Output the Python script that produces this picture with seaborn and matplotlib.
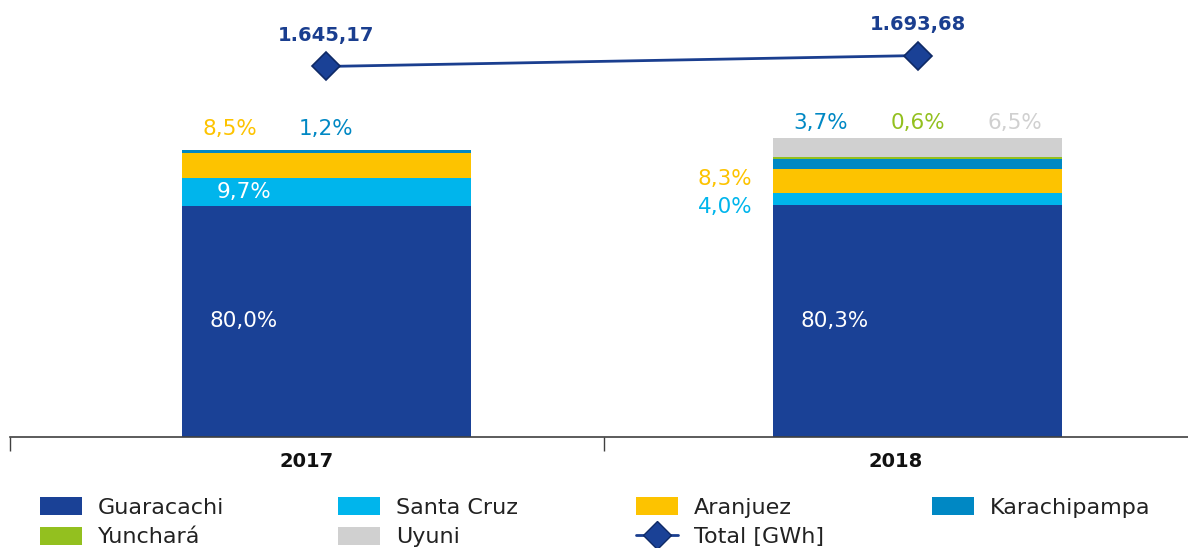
import numpy as np
import pandas as pd
import matplotlib
matplotlib.use("Agg")
import matplotlib.pyplot as plt
import seaborn as sns
from matplotlib.patches import Patch
from matplotlib.lines import Line2D

# Data
years = ["2017", "2018"]
plants = ["Guaracachi", "Santa Cruz", "Aranjuez", "Karachipampa", "Yunchará", "Uyuni"]
share_2017 = [80.0, 9.7, 8.5, 1.2, 0.0, 0.0]
share_2018 = [80.3, 4.0, 8.3, 3.7, 0.6, 6.5]
totals_gwh = [1645.17, 1693.68]

colors = ["#1a4196", "#00b5ec", "#fdc300", "#0088c4", "#93c01f", "#d0d0d0"]
line_color = "#1a3e8f"

sns.set_theme(style="white")
plt.rcParams["font.family"] = ["DejaVu Sans"]


def pct(v):
    return f"{v:.1f}".replace(".", ",") + "%"


def gwh(v):
    s = f"{v:,.2f}"
    return s.replace(",", "X").replace(".", ",").replace("X", ".")


shares = pd.DataFrame([share_2017, share_2018], columns=plants, index=years)
cum = shares.cumsum(axis=1)

fig = plt.figure(figsize=(11.88, 5.48), dpi=100)
ax = fig.add_axes([10 / 1188, 111 / 548, 1178 / 1188, 437 / 548])

# stacked bars: draw cumulative totals from the top segment down
for name, col in reversed(list(zip(plants, colors))):
    sns.barplot(x=years, y=cum[name].values, color=col, width=0.489,
                saturation=1, ax=ax, edgecolor="none")

ax.set_ylim(0, 437 / 2.89)
for side in ["top", "right", "left"]:
    ax.spines[side].set_visible(False)
ax.spines["bottom"].set_color("#404040")
ax.spines["bottom"].set_linewidth(1.2)
ax.set_yticks([])
ax.set_ylabel("")

# labels inside bars (white)
inside = [(0, "Guaracachi"), (0, "Santa Cruz"), (1, "Guaracachi")]
for i, name in inside:
    v = shares.loc[years[i], name]
    mid = cum.loc[years[i], name] - v / 2
    ax.text(i - 0.14, mid, pct(v), color="white", fontsize=15.5,
            ha="center", va="center")

# labels outside bars (segment colour)
outside = [
    (0, "Aranjuez", -0.163, 106.6),
    (0, "Karachipampa", 0.0, 106.6),
    (1, "Karachipampa", -0.165, 108.7),
    (1, "Yunchará", 0.0, 108.7),
    (1, "Uyuni", 0.165, 108.7),
    (1, "Aranjuez", -0.326, 89.3),
    (1, "Santa Cruz", -0.326, 79.6),
]
for i, name, dx, y in outside:
    v = shares.loc[years[i], name]
    ax.text(i + dx, y, pct(v), color=colors[plants.index(name)], fontsize=15.5,
            ha="center", va="center")

# total generation line on a secondary axis
ax2 = ax.twinx()
xpos = np.arange(len(years))
sns.lineplot(x=xpos, y=totals_gwh, ax=ax2, color=line_color, linewidth=2,
             marker="D", markersize=14, markerfacecolor="#1a4196",
             markeredgecolor="#0f2a66", markeredgewidth=1.2)
ax2.set_ylim(0, 437 * 4.44)
ax2.set_yticks([])
ax2.set_ylabel("")
for side in ["top", "right", "left", "bottom"]:
    ax2.spines[side].set_visible(False)
for x, t in zip(xpos, totals_gwh):
    ax2.annotate(gwh(t), (x, t), xytext=(0, 22), textcoords="offset points",
                 ha="center", va="center", fontsize=14, fontweight="bold",
                 color="#1a3e8f")

# x axis: category boundaries as ticks, year labels between them
ax.set_xlim(-0.535, 1.457)
ax.set_xticks([-0.535, 0.469], minor=True)
ax.tick_params(axis="x", which="minor", length=10, width=1, color="#404040", bottom=True)
ax.set_xticks([-0.033, 0.963])
ax.set_xticklabels(years)
ax.tick_params(axis="x", which="major", length=0, pad=11, labelsize=14, labelcolor="#111111")
for lab in ax.get_xticklabels():
    lab.set_fontweight("bold")

# legend: one column per legend so columns sit on an even grid
hp = [Patch(facecolor=c, edgecolor="none") for c in colors]
hline = Line2D([0], [0], color=line_color, linewidth=2, marker="D",
               markersize=14, markerfacecolor="#1a4196", markeredgecolor="#0f2a66")
columns = [
    ([hp[0], hp[4]], [plants[0], plants[4]]),
    ([hp[1], hp[5]], [plants[1], plants[5]]),
    ([hp[2], hline], [plants[2], "Total [GWh]"]),
    ([hp[3]], [plants[3]]),
]
col_x = [40, 338, 636, 932]
for (h, l), x in zip(columns, col_x):
    leg = fig.legend(h, l, loc="upper left",
                     bbox_to_anchor=(x / 1188, 1 - 497 / 548),
                     frameon=False, fontsize=16, handlelength=1.9,
                     handleheight=0.85, handletextpad=0.7, labelspacing=0.42,
                     borderpad=0, borderaxespad=0, labelcolor="#222222")

fig.savefig("out.png", dpi=100)
